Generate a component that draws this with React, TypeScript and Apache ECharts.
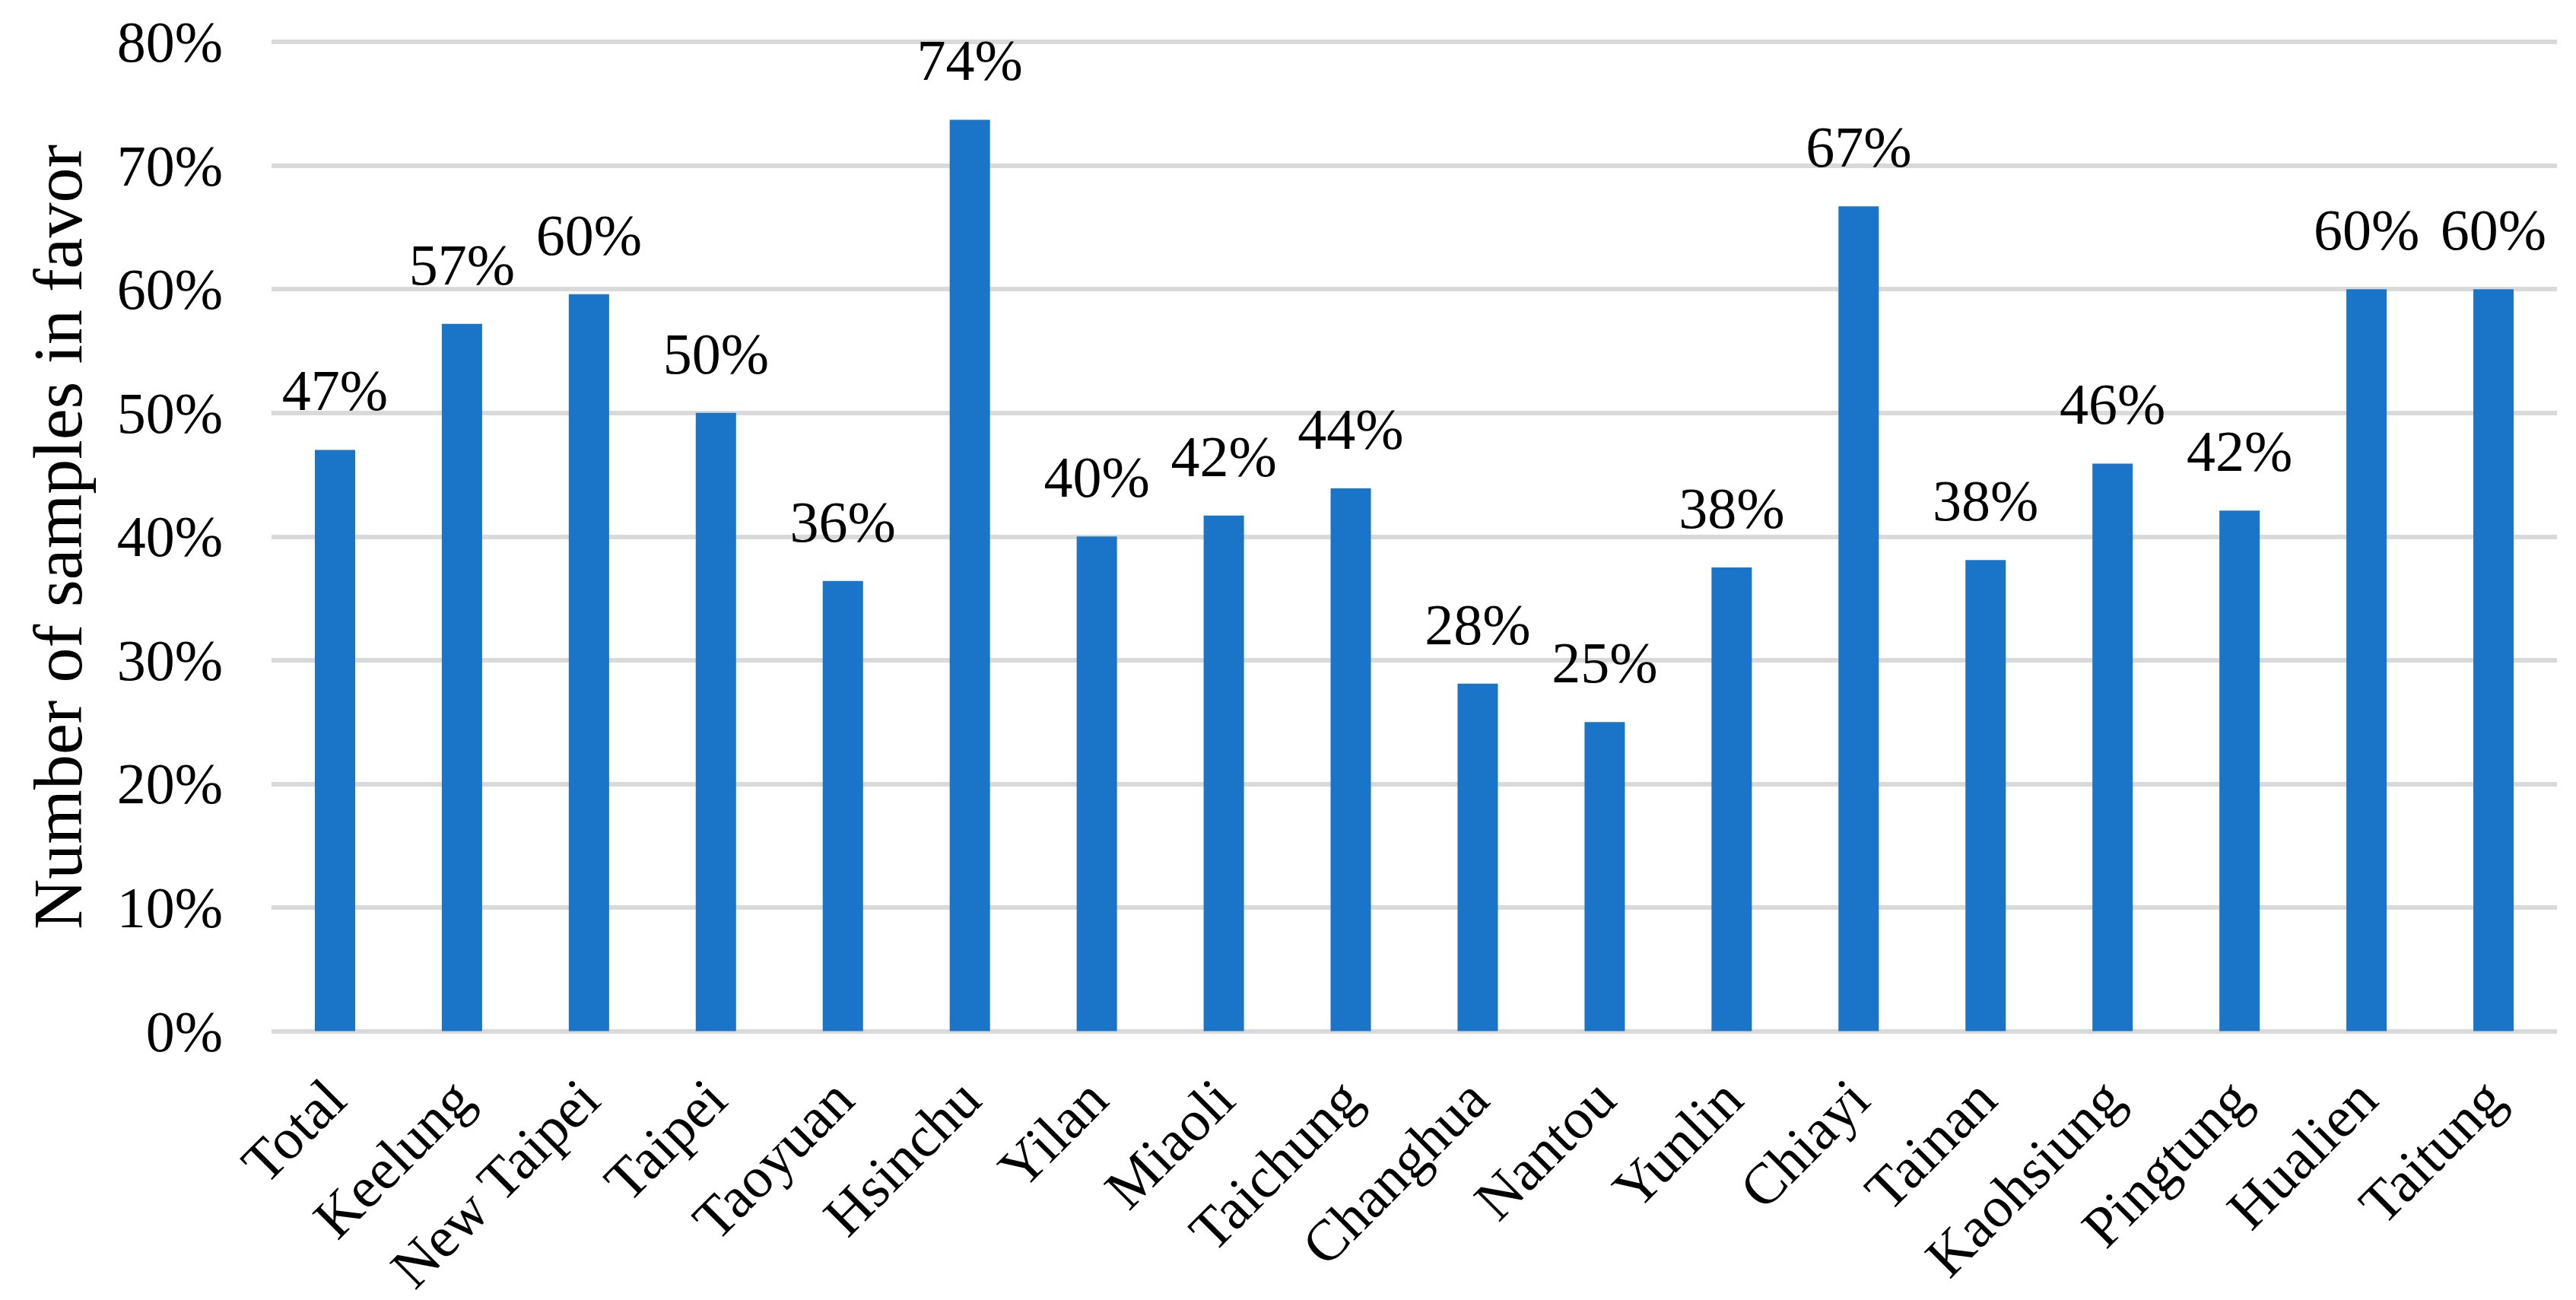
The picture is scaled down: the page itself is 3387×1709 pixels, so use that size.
import React, { useEffect, useRef } from "react";
import * as echarts from "echarts";

const categories = [
  "Total", "Keelung", "New Taipei", "Taipei", "Taoyuan", "Hsinchu", "Yilan", "Miaoli",
  "Taichung", "Changhua", "Nantou", "Yunlin", "Chiayi", "Tainan", "Kaohsiung", "Pingtung",
  "Hualien", "Taitung",
];

const inFavor = [
  0.470, 0.572, 0.596, 0.500, 0.364, 0.737, 0.400, 0.417,
  0.439, 0.281, 0.250, 0.375, 0.667, 0.381, 0.459, 0.421,
  0.600, 0.600,
];

const yTitle = "Number of samples in favor";

const FONT = "'Liberation Serif', 'Times New Roman', serif";

export default function App() {
  const ref = useRef<HTMLDivElement>(null);

  useEffect(() => {
    if (!ref.current) return;
    const chart = echarts.init(ref.current, null, { renderer: "svg" });
    chart.setOption({
      animation: false,
      backgroundColor: "#ffffff",
      grid: { left: 357, right: 25, top: 55, bottom: 351, containLabel: false },
      xAxis: {
        type: "category",
        data: categories,
        axisLine: { show: false },
        axisTick: { show: false },
        axisLabel: {
          interval: 0,
          rotate: 45,
          margin: 76,
          color: "#000000",
          fontFamily: FONT,
          fontSize: 76,
        },
      },
      yAxis: {
        type: "value",
        min: 0,
        max: 0.8,
        interval: 0.1,
        axisLine: { show: false },
        axisTick: { show: false },
        splitLine: { show: true, lineStyle: { color: "#D9D9D9", width: 6 } },
        axisLabel: {
          margin: 64,
          color: "#000000",
          fontFamily: FONT,
          fontSize: 76,
          formatter: (v: number) => Math.round(v * 100) + "%",
        },
      },
      graphic: [
        {
          type: "text",
          x: 76,
          y: 706,
          rotation: Math.PI / 2,
          style: {
            text: yTitle,
            fill: "#000000",
            font: `92px ${FONT}`,
            align: "center",
            verticalAlign: "middle",
            textAlign: "center",
            textVerticalAlign: "middle",
          },
        },
      ],
      series: [
        {
          type: "bar",
          data: inFavor,
          barWidth: 53,
          itemStyle: { color: "#1A74C8" },
          label: {
            show: true,
            position: "top",
            distance: 40,
            color: "#000000",
            fontFamily: FONT,
            fontSize: 76,
            formatter: (p: any) => Math.round(p.value * 100) + "%",
          },
        },
      ],
    });
    return () => chart.dispose();
  }, []);

  return (
    <div
      ref={ref}
      style={{ position: "fixed", left: 0, top: 0, width: 3387, height: 1709, background: "#fff" }}
    />
  );
}
